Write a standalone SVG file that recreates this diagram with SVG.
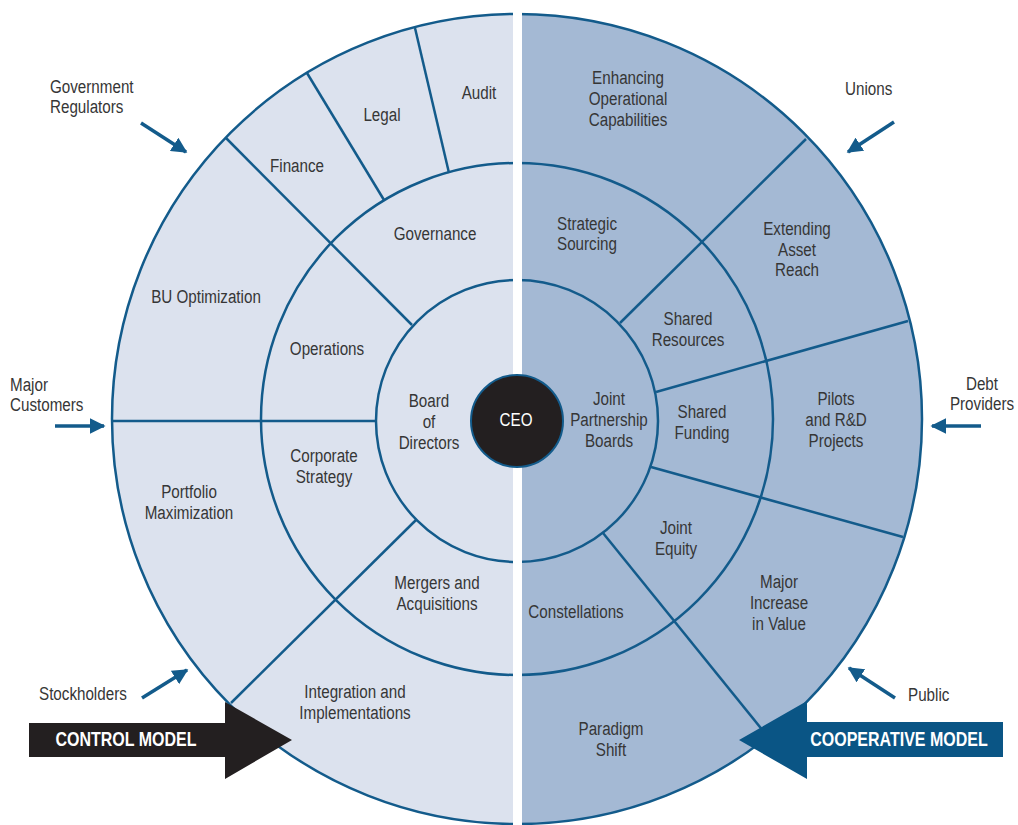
<svg xmlns="http://www.w3.org/2000/svg" width="1018" height="825" viewBox="0 0 1018 825">
<style>
.t{font-family:"Liberation Sans",Arial,sans-serif;font-size:19px;fill:#363636;text-anchor:middle}
.l{text-anchor:start}
.ring{fill:none;stroke:#135b8b;stroke-width:2.5}
.sp{stroke:#135b8b;stroke-width:2.5;fill:none}
.ar{stroke:#135b8b;stroke-width:3.5;fill:none;marker-end:url(#ah)}
.big{font-family:"Liberation Sans",Arial,sans-serif;font-size:20px;font-weight:bold;fill:#ffffff;text-anchor:middle}
</style>
<defs>
<marker id="ah" viewBox="0 0 10 10" refX="9" refY="5" markerWidth="4.5" markerHeight="4.5" orient="auto" markerUnits="strokeWidth">
<path d="M0,0 L10,5 L0,10 Z" fill="#135b8b"/>
</marker>
</defs>
<rect width="1018" height="825" fill="#ffffff"/>
<g id="halves">
<path d="M517,14 A405,405 0 0 0 517,824 Z" fill="#dce2ee"/>
<path d="M517,14 A405,405 0 0 1 517,824 Z" fill="#a4b9d4"/>
</g>
<g id="rings">
<circle class="ring" cx="517" cy="419" r="405"/>
<circle class="ring" cx="517" cy="419" r="256"/>
<circle class="ring" cx="517" cy="421" r="141"/>
</g>
<g id="connectors">
<line class="sp" x1="415" y1="28" x2="449" y2="173"/>
<line class="sp" x1="307" y1="73" x2="384" y2="200"/>
<line class="sp" x1="226" y1="138" x2="412" y2="325"/>
<line class="sp" x1="112" y1="421" x2="376" y2="421"/>
<line class="sp" x1="231" y1="703" x2="416" y2="520"/>
<line class="sp" x1="620" y1="323" x2="806" y2="139"/>
<line class="sp" x1="656" y1="392" x2="908" y2="321"/>
<line class="sp" x1="651" y1="467" x2="903" y2="537"/>
<line class="sp" x1="603" y1="533" x2="768" y2="737"/>
<line class="ar" x1="141" y1="123" x2="186" y2="152"/>
<line class="ar" x1="55" y1="426" x2="104" y2="426"/>
<line class="ar" x1="142" y1="698" x2="187" y2="670"/>
<line class="ar" x1="894" y1="122" x2="848" y2="152"/>
<line class="ar" x1="981" y1="426" x2="932" y2="426"/>
<line class="ar" x1="895" y1="698" x2="849" y2="668"/>
</g>
<rect id="gap" x="513" y="0" width="9" height="825" fill="#ffffff"/>
<g id="ceo">
<circle cx="517" cy="421" r="46" fill="#231f20" stroke="#135b8b" stroke-width="2"/>
<text class="t" transform="translate(516,426) scale(.8,1)" style="fill:#ffffff">CEO</text>
</g>
<g id="control-model">
<path d="M29,723 L225,723 L225,702 L292,740 L225,779 L225,757 L29,757 Z" fill="#231f20"/>
<text class="big" transform="translate(126,746) scale(.8,1)">CONTROL MODEL</text>
</g>
<g id="cooperative-model">
<path d="M1003,722 L807,722 L807,701 L739,740 L807,779 L807,757 L1003,757 Z" fill="#0a5585"/>
<text class="big" transform="translate(899,746) scale(.8,1)">COOPERATIVE MODEL</text>
</g>
<g id="stakeholders">
<text class="t l" transform="translate(50,93) scale(.8,1)">Government</text>
<text class="t l" transform="translate(50,113) scale(.8,1)">Regulators</text>
<text class="t l" transform="translate(10,391) scale(.8,1)">Major</text>
<text class="t l" transform="translate(10,411) scale(.8,1)">Customers</text>
<text class="t l" transform="translate(39,700) scale(.8,1)">Stockholders</text>
<text class="t l" transform="translate(845,95) scale(.8,1)">Unions</text>
<text class="t" transform="translate(982,390) scale(.8,1)">Debt</text>
<text class="t" transform="translate(982,410) scale(.8,1)">Providers</text>
<text class="t l" transform="translate(908,701) scale(.8,1)">Public</text>
</g>
<g id="audit"><text class="t" transform="translate(479,99) scale(.8,1)">Audit</text></g>
<g id="legal"><text class="t" transform="translate(382,121) scale(.8,1)">Legal</text></g>
<g id="finance"><text class="t" transform="translate(297,172) scale(.8,1)">Finance</text></g>
<g id="governance"><text class="t" transform="translate(435,240) scale(.8,1)">Governance</text></g>
<g id="bu-optimization"><text class="t" transform="translate(206,303) scale(.8,1)">BU Optimization</text></g>
<g id="operations"><text class="t" transform="translate(327,355) scale(.8,1)">Operations</text></g>
<g id="board"><text class="t" transform="translate(429,407) scale(.8,1)">Board</text><text class="t" transform="translate(429,428) scale(.8,1)">of</text><text class="t" transform="translate(429,449) scale(.8,1)">Directors</text></g>
<g id="corporate-strategy"><text class="t" transform="translate(324,462) scale(.8,1)">Corporate</text><text class="t" transform="translate(324,483) scale(.8,1)">Strategy</text></g>
<g id="portfolio"><text class="t" transform="translate(189,498) scale(.8,1)">Portfolio</text><text class="t" transform="translate(189,519) scale(.8,1)">Maximization</text></g>
<g id="mergers"><text class="t" transform="translate(437,589) scale(.8,1)">Mergers and</text><text class="t" transform="translate(437,610) scale(.8,1)">Acquisitions</text></g>
<g id="integration"><text class="t" transform="translate(355,698) scale(.8,1)">Integration and</text><text class="t" transform="translate(355,719) scale(.8,1)">Implementations</text></g>
<g id="enhancing"><text class="t" transform="translate(628,84) scale(.8,1)">Enhancing</text><text class="t" transform="translate(628,105) scale(.8,1)">Operational</text><text class="t" transform="translate(628,126) scale(.8,1)">Capabilities</text></g>
<g id="strategic-sourcing"><text class="t" transform="translate(587,230) scale(.8,1)">Strategic</text><text class="t" transform="translate(587,250) scale(.8,1)">Sourcing</text></g>
<g id="extending"><text class="t" transform="translate(797,235) scale(.8,1)">Extending</text><text class="t" transform="translate(797,256) scale(.8,1)">Asset</text><text class="t" transform="translate(797,276) scale(.8,1)">Reach</text></g>
<g id="shared-resources"><text class="t" transform="translate(688,325) scale(.8,1)">Shared</text><text class="t" transform="translate(688,346) scale(.8,1)">Resources</text></g>
<g id="joint-partnership"><text class="t" transform="translate(609,405) scale(.8,1)">Joint</text><text class="t" transform="translate(609,426) scale(.8,1)">Partnership</text><text class="t" transform="translate(609,447) scale(.8,1)">Boards</text></g>
<g id="shared-funding"><text class="t" transform="translate(702,418) scale(.8,1)">Shared</text><text class="t" transform="translate(702,439) scale(.8,1)">Funding</text></g>
<g id="pilots"><text class="t" transform="translate(836,405) scale(.8,1)">Pilots</text><text class="t" transform="translate(836,426) scale(.8,1)">and R&amp;D</text><text class="t" transform="translate(836,447) scale(.8,1)">Projects</text></g>
<g id="joint-equity"><text class="t" transform="translate(676,534) scale(.8,1)">Joint</text><text class="t" transform="translate(676,555) scale(.8,1)">Equity</text></g>
<g id="constellations"><text class="t" transform="translate(576,618) scale(.8,1)">Constellations</text></g>
<g id="major-increase"><text class="t" transform="translate(779,588) scale(.8,1)">Major</text><text class="t" transform="translate(779,609) scale(.8,1)">Increase</text><text class="t" transform="translate(779,630) scale(.8,1)">in Value</text></g>
<g id="paradigm"><text class="t" transform="translate(611,735) scale(.8,1)">Paradigm</text><text class="t" transform="translate(611,756) scale(.8,1)">Shift</text></g>
</svg>
